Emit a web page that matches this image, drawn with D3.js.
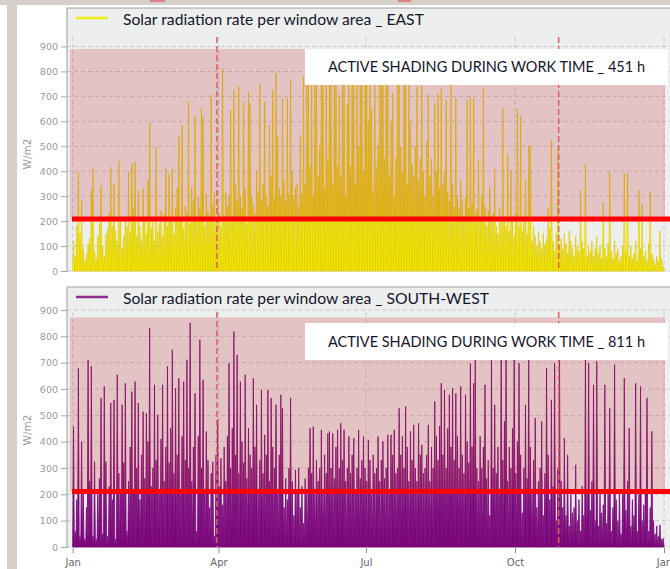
<!DOCTYPE html>
<html>
<head>
<meta charset="utf-8">
<script src="https://cdn.jsdelivr.net/npm/d3@7"></script>
<style>
  body { margin: 0; background: #fff; }
  svg { display: block; }
</style>
</head>
<body>
<div id="chart"></div>
<script>
// daily peak values, W/m2, Jan 1 .. Dec 31
var eastPeaks = [
  120, 60, 180, 396, 150, 282, 90, 40, 70, 110,
  130, 323, 410, 80, 50, 140, 190, 343, 100, 60,
  150, 170, 230, 417, 180, 350, 160, 120, 441, 200,
  90, 140, 210, 180, 396, 160, 430, 250, 437, 140,
  323, 180, 120, 330, 200, 150, 363, 598, 170, 210,
  120, 497, 160, 190, 242, 140, 230, 410, 180, 390,
  200, 410, 150, 250, 330, 545, 210, 585, 170, 260,
  230, 679, 190, 336, 280, 621, 200, 300, 250, 652,
  618, 180, 309, 240, 220, 706, 260, 316, 190, 280,
  230, 180, 813, 210, 316, 260, 300, 645, 220, 726,
  350, 280, 739, 300, 250, 679, 330, 190, 719, 672,
  300, 260, 229, 400, 320, 752, 280, 350, 679, 300,
  260, 585, 380, 726, 290, 793, 538, 330, 300, 692,
  360, 280, 692, 310, 766, 400, 290, 336, 350, 260,
  545, 310, 780, 350, 800, 760, 420, 790, 300, 760,
  780, 380, 500, 790, 760, 330, 800, 450, 770, 780,
  350, 760, 800, 420, 706, 380, 760, 790, 300, 666,
  760, 420, 780, 790, 350, 760, 500, 800, 760, 400,
  790, 760, 600, 780, 652, 320, 770, 417, 500, 760,
  800, 780, 450, 770, 790, 380, 600, 712, 300, 450,
  760, 790, 500, 400, 780, 760, 350, 790, 600, 430,
  380, 500, 739, 360, 450, 780, 400, 300, 520, 706,
  380, 450, 300, 672, 400, 712, 330, 732, 350, 400,
  685, 320, 280, 770, 350, 260, 692, 300, 250, 363,
  280, 220, 300, 685, 250, 699, 270, 692, 230, 250,
  443, 200, 300, 732, 260, 180, 240, 336, 200, 230,
  410, 180, 150, 250, 200, 652, 220, 180, 470, 160,
  403, 200, 140, 230, 652, 180, 625, 160, 200, 369,
  150, 504, 497, 120, 180, 140, 100, 160, 120, 90,
  150, 110, 130, 255, 170, 524, 120, 80, 150, 497,
  100, 130, 90, 150, 110, 70, 161, 120, 90, 60,
  140, 100, 80, 323, 120, 90, 427, 60, 100, 80,
  120, 60, 90, 140, 70, 100, 50, 275, 90, 60,
  110, 400, 80, 50, 120, 70, 90, 40, 60, 100,
  392, 80, 390, 60, 100, 50, 70, 120, 40, 323,
  90, 268, 60, 80, 40, 110, 316, 70, 50, 30,
  60, 40, 161, 50, 20
];
var southWestPeaks = [
  457, 60, 180, 679, 40, 400, 220, 30, 150, 711,
  250, 686, 40, 324, 30, 200, 260, 566, 50, 610,
  324, 40, 230, 547, 180, 559, 30, 654, 280, 210,
  540, 320, 622, 60, 250, 380, 590, 220, 628, 300,
  547, 180, 350, 514, 260, 508, 400, 831, 230, 300,
  616, 330, 502, 200, 410, 616, 250, 380, 686, 320,
  450, 749, 280, 603, 350, 641, 200, 420, 628, 330,
  711, 300, 851, 250, 380, 584, 60, 420, 787, 300,
  635, 210, 439, 330, 150, 280, 324, 40, 350, 483,
  230, 337, 160, 380, 250, 420, 698, 300, 450, 819,
  350, 730, 280, 628, 400, 320, 654, 260, 451, 350,
  300, 641, 380, 540, 200, 330, 597, 280, 426, 350,
  597, 250, 566, 380, 300, 540, 200, 350, 578, 527,
  150, 260, 180, 300, 566, 250, 120, 293, 220, 300,
  150, 230, 90, 260, 200, 300, 451, 280, 457, 200,
  330, 250, 300, 445, 220, 350, 280, 432, 439, 300,
  432, 260, 380, 445, 300, 470, 330, 445, 250, 300,
  420, 280, 350, 413, 220, 300, 445, 260, 330, 420,
  300, 250, 407, 330, 200, 350, 280, 300, 420, 250,
  330, 401, 260, 300, 426, 200, 426, 350, 445, 280,
  300, 527, 350, 420, 300, 534, 380, 250, 439, 330,
  464, 300, 250, 470, 350, 388, 280, 300, 350, 464,
  250, 380, 300, 553, 420, 330, 460, 622, 350, 597,
  300, 450, 578, 380, 603, 330, 584, 420, 300, 610,
  350, 280, 578, 400, 320, 698, 380, 622, 711, 300,
  250, 420, 300, 380, 616, 260, 330, 120, 740, 300,
  540, 280, 380, 200, 760, 330, 477, 730, 250, 380,
  300, 450, 750, 280, 400, 698, 350, 130, 300, 540,
  260, 720, 380, 200, 330, 490, 150, 250, 300, 477,
  120, 280, 679, 350, 180, 559, 230, 698, 100, 300,
  720, 250, 150, 413, 120, 350, 80, 200, 130, 150,
  312, 100, 180, 60, 230, 120, 730, 200, 698, 140,
  250, 616, 100, 705, 80, 200, 130, 160, 616, 90,
  200, 527, 60, 150, 692, 180, 100, 220, 50, 200,
  641, 140, 250, 451, 80, 180, 120, 622, 60, 200,
  610, 100, 160, 220, 566, 60, 150, 439, 100, 50,
  80, 40, 84, 30, 33
];
var seriesNames = ["Solar radiation rate per window area _ EAST",
                   "Solar radiation rate per window area _ SOUTH-WEST"];
var shadingHours = [451, 811];
var thresholds = [208, 211];
var shadeTops = [890, 872];
var markerDates = ["2015-03-31", "2015-10-28"];
var xTickDates = ["2015-01-01", "2015-04-01", "2015-07-01", "2015-10-01", "2016-01-01"];
var xTickLabels = ["Jan", "Apr", "Jul", "Oct", "Jan"];
var yTicks = [0, 100, 200, 300, 400, 500, 600, 700, 800, 900];
var yLabel = "W/m2";

var width = 670, height = 569;
var parse = d3.utcParse("%Y-%m-%d");
var start = parse(xTickDates[0]);

var x = d3.scaleUtc()
    .domain([start, parse(xTickDates[xTickDates.length - 1])])
    .range([72.7, 664]);

// layout of the two stacked panels
var panels = [
    { data: eastPeaks, fill: "#ffff00", stroke: "#e2cc00", strokeWidth: 0.75, key: "#f2ee18",
      frameTop: 8, frameBottom: 272, y0: 271, y900: 46.5, plotTop: 37,
      boxTop: 49, boxBottom: 85, legendY: 18, labelY: 154, xAxis: false },
    { data: southWestPeaks, fill: "#800080", stroke: "#7a0a7a", strokeWidth: 0.85, key: "#8e2a8e",
      frameTop: 287, frameBottom: 548, y0: 547, y900: 310, plotTop: 312,
      boxTop: 323, boxBottom: 360, legendY: 297, labelY: 430, xAxis: true }
];

var svg = d3.select("#chart").append("svg")
    .attr("width", width)
    .attr("height", height);

// bits of the surrounding window
svg.append("rect").attr("x", 0).attr("y", 0).attr("width", width).attr("height", 5).attr("fill", "#d7cfca");
svg.append("rect").attr("x", 7).attr("y", 0).attr("width", 10).attr("height", height).attr("fill", "#d7cfca");
svg.append("rect").attr("x", 150).attr("y", 0).attr("width", 15).attr("height", 2).attr("fill", "#e08080");
svg.append("rect").attr("x", 398).attr("y", 0).attr("width", 13).attr("height", 2).attr("fill", "#e08080");

// one spike per day: up to the day's peak at noon and back to zero
function spikes(values) {
    var pts = [];
    values.forEach(function (v, i) {
        var day = d3.utcDay.offset(start, i);
        pts.push({ t: day, v: 0 });
        pts.push({ t: d3.utcHour.offset(day, 12), v: v });
    });
    pts.push({ t: d3.utcDay.offset(start, values.length), v: 0 });
    return pts;
}

panels.forEach(function (p, k) {
    var y = d3.scaleLinear().domain([0, 900]).range([p.y0, p.y900]);
    var g = svg.append("g");

    // frame background
    g.append("rect")
        .attr("x", 67).attr("y", p.frameTop)
        .attr("width", width - 67).attr("height", p.frameBottom - p.frameTop)
        .attr("fill", "#edefef");

    // grid
    g.append("g").selectAll("line").data(yTicks).join("line")
        .attr("x1", 67).attr("x2", width)
        .attr("y1", function (d) { return y(d); }).attr("y2", function (d) { return y(d); })
        .attr("stroke", "#c9c9c9").attr("stroke-dasharray", "4,3");
    g.append("g").selectAll("line").data(xTickDates).join("line")
        .attr("x1", function (d) { return x(parse(d)); }).attr("x2", function (d) { return x(parse(d)); })
        .attr("y1", p.plotTop).attr("y2", p.y0)
        .attr("stroke", "#c9c9c9").attr("stroke-dasharray", "4,3");

    // the series
    var area = d3.area()
        .x(function (d) { return x(d.t); })
        .y0(y(0))
        .y1(function (d) { return y(d.v); });
    g.append("path")
        .datum(spikes(p.data))
        .attr("d", area)
        .attr("fill", p.fill)
        .attr("stroke", p.stroke)
        .attr("stroke-width", p.strokeWidth);

    // shaded band above the threshold
    g.append("rect")
        .attr("x", 70).attr("y", y(shadeTops[k]))
        .attr("width", 595).attr("height", y(thresholds[k]) - y(shadeTops[k]))
        .attr("fill", "rgba(190,40,40,0.22)");

    // red dashed markers
    g.append("g").selectAll("line").data(markerDates).join("line")
        .attr("x1", function (d) { return x(parse(d)); }).attr("x2", function (d) { return x(parse(d)); })
        .attr("y1", p.plotTop).attr("y2", p.y0)
        .attr("stroke", "#e06060").attr("stroke-width", 1.5)
        .attr("stroke-dasharray", "6,3");

    // threshold line
    g.append("line")
        .attr("x1", 72).attr("x2", width)
        .attr("y1", y(thresholds[k])).attr("y2", y(thresholds[k]))
        .attr("stroke", "#ff0000").attr("stroke-width", 5);

    // annotation box
    g.append("rect")
        .attr("x", 305).attr("y", p.boxTop)
        .attr("width", 363).attr("height", p.boxBottom - p.boxTop)
        .attr("fill", "#ffffff");
    g.append("text")
        .attr("x", 486.5).attr("y", (p.boxTop + p.boxBottom) / 2)
        .attr("dy", "0.36em")
        .attr("text-anchor", "middle")
        .style("font-family", "Lato, 'Open Sans', sans-serif")
        .style("font-size", "14.5px")
        .attr("fill", "#15152a")
        .text("ACTIVE SHADING DURING WORK TIME _ " + shadingHours[k] + " h");

    // legend
    g.append("line")
        .attr("x1", 76).attr("x2", 108)
        .attr("y1", p.legendY).attr("y2", p.legendY)
        .attr("stroke", p.key).attr("stroke-width", 2.5);
    g.append("text")
        .attr("x", 123).attr("y", p.legendY + 1)
        .attr("dy", "0.36em")
        .style("font-family", "Lato, 'Open Sans', sans-serif")
        .style("font-size", "15.7px")
        .attr("fill", "#15152a")
        .text(seriesNames[k]);

    // frame border
    g.append("path")
        .attr("d", "M" + width + "," + p.frameTop + "H67V" + p.frameBottom)
        .attr("fill", "none").attr("stroke", "#9c9c9c");

    // y axis
    var ya = g.append("g")
        .attr("transform", "translate(67,0)")
        .call(d3.axisLeft(y).tickValues(yTicks).tickSize(6).tickPadding(3));
    ya.select(".domain").remove();
    ya.selectAll("line").attr("stroke", "#a8a8a8");
    ya.selectAll("text")
        .style("font-family", "'DejaVu Sans', sans-serif")
        .style("font-size", "9.5px")
        .attr("fill", "#9a9a9a");

    g.append("text")
        .attr("transform", "translate(31," + p.labelY + ") rotate(-90)")
        .attr("text-anchor", "middle")
        .style("font-family", "'DejaVu Sans', sans-serif")
        .style("font-size", "10.5px")
        .attr("fill", "#9a9a9a")
        .text(yLabel);

    // x axis, bottom panel only
    if (p.xAxis) {
        var xa = g.append("g")
            .attr("transform", "translate(0," + p.frameBottom + ")")
            .call(d3.axisBottom(x)
                .tickValues(xTickDates.map(parse))
                .tickFormat(function (d, i) { return xTickLabels[i]; })
                .tickSize(5).tickPadding(6));
        xa.select(".domain").remove();
        xa.selectAll("line").attr("stroke", "#888");
        xa.selectAll("text")
            .style("font-family", "'DejaVu Sans', sans-serif")
            .style("font-size", "10px")
            .attr("fill", "#666");
    }
});
</script>
</body>
</html>
